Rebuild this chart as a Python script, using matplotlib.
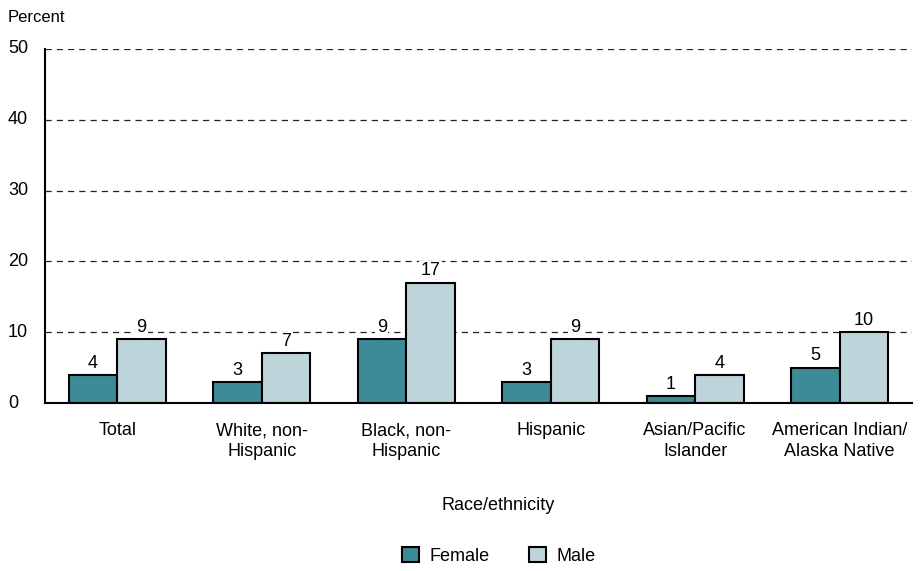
import matplotlib
matplotlib.use('Agg')
import matplotlib.pyplot as plt
import matplotlib.transforms as mtransforms
import numpy as np
from matplotlib.patches import Patch

plt.rcParams['font.family'] = ['Liberation Sans Narrow', 'Liberation Sans', 'DejaVu Sans']

categories = ['Total', 'White, non-\nHispanic', 'Black, non-\nHispanic', 'Hispanic',
              'Asian/Pacific\nIslander', 'American Indian/\nAlaska Native']
female = [4, 3, 9, 3, 1, 5]
male = [9, 7, 17, 9, 4, 10]
yticks = [0, 10, 20, 30, 40, 50]

FEMALE_C = '#3d8a99'
MALE_C = '#bdd4da'
FS = 13

fig = plt.figure(figsize=(9.22, 5.71), dpi=100)
ax = fig.add_axes([0.0488, 0.2942, 0.9402, 0.62])

x = np.arange(len(categories))
w = 0.335
ax.bar(x - w/2, female, w, color=FEMALE_C, edgecolor='black', linewidth=1.5, zorder=3)
ax.bar(x + w/2, male, w, color=MALE_C, edgecolor='black', linewidth=1.5, zorder=3)

lbl_box = dict(facecolor='white', edgecolor='none', pad=1)
for xi, v in zip(x - w/2, female):
  ax.text(xi, v + 0.45, str(v), ha='center', va='bottom', fontsize=FS, zorder=4, bbox=lbl_box)
for xi, v in zip(x + w/2, male):
  ax.text(xi, v + 0.45, str(v), ha='center', va='bottom', fontsize=FS, zorder=4, bbox=lbl_box)

ax.set_xlim(-0.5, len(categories) - 0.5)
ax.set_ylim(0, 50)
ax.set_yticks(yticks)
ax.set_yticklabels([])
ax.tick_params(axis='y', length=0)
# y labels left-aligned at the figure edge
trans = mtransforms.blended_transform_factory(fig.transFigure, ax.transData)
for t in yticks:
  ax.text(8/922, t, str(t), transform=trans, ha='left', va='center', fontsize=FS, clip_on=False)

ax.set_xticks(x)
ax.tick_params(axis='x', length=0, pad=14)
ax.set_xticklabels(categories, fontsize=FS, linespacing=1.25)

for t in yticks[1:]:
  ax.axhline(t, color='#222222', linestyle=(0, (5, 4)), linewidth=0.9, zorder=1)

for s in ['top', 'right']:
  ax.spines[s].set_visible(False)
ax.spines['left'].set_linewidth(1.5)
ax.spines['bottom'].set_linewidth(1.5)
ax.spines['left'].set_zorder(5)
ax.spines['bottom'].set_zorder(5)

fig.text(8/922, 1 - 17/571, 'Percent', fontsize=FS - 1, ha='left', va='center')
fig.text(498/922, 1 - 505/571, 'Race/ethnicity', fontsize=FS, ha='center', va='center')

handles = [Patch(facecolor=FEMALE_C, edgecolor='black', linewidth=1.5),
           Patch(facecolor=MALE_C, edgecolor='black', linewidth=1.5)]
fig.legend(handles, ['Female', 'Male'], loc='center', bbox_to_anchor=(499/922, 1 - 556/571),
           ncol=2, frameon=False, fontsize=FS, handlelength=0.9, handleheight=0.9,
           handletextpad=0.6, columnspacing=2.2)

fig.savefig('out.png', dpi=100)
